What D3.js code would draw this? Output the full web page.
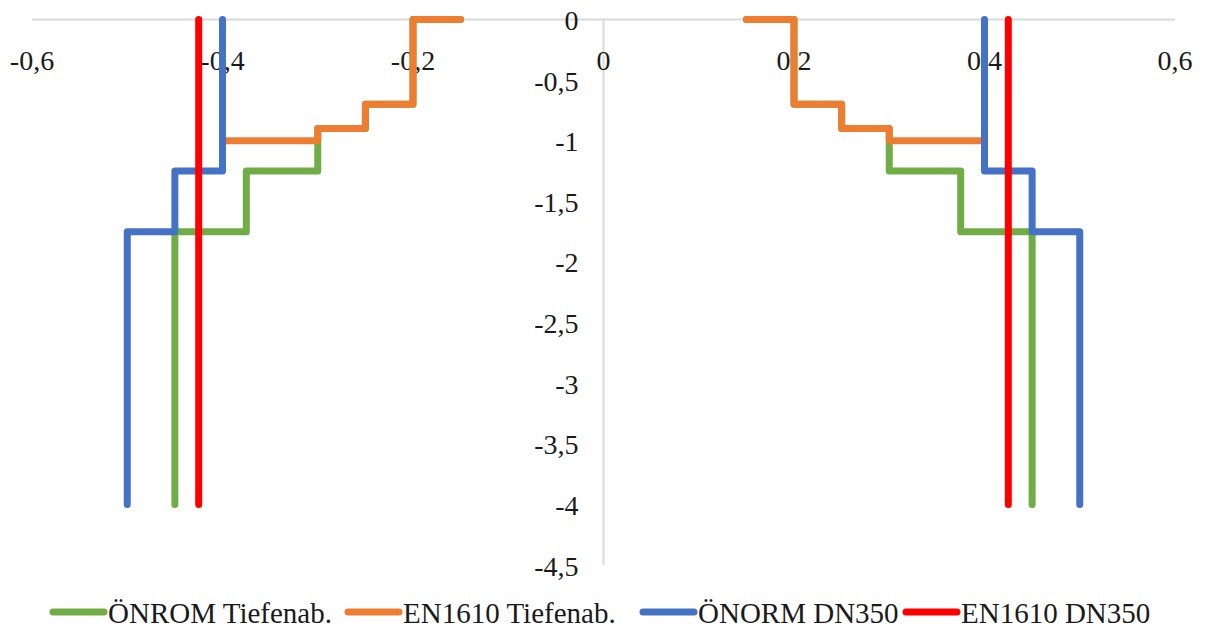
<!DOCTYPE html>
<html>
<head>
<meta charset="utf-8">
<script src="https://cdn.jsdelivr.net/npm/d3@7"></script>
<style>
  html, body { margin: 0; padding: 0; background: #fff; }
  svg { display: block; }
  text { font-family: "Liberation Serif", "DejaVu Serif", serif; fill: #1a1a1a; }
</style>
</head>
<body>
<svg id="chart" width="1206" height="632"></svg>
<script>
// Series: step profiles, right (positive x) and left (negative x) branches
const seriesNames = ["ÖNROM Tiefenab.", "EN1610 Tiefenab.", "ÖNORM DN350", "EN1610 DN350"];
const seriesColors = ["#70ad47", "#ed7d31", "#4472c4", "#ff0000"];

const onromTiefRightX = [0.15, 0.2, 0.2, 0.25, 0.25, 0.3, 0.3, 0.3, 0.375, 0.375, 0.45, 0.45];
const onromTiefRightY = [0, 0, -0.7, -0.7, -0.9, -0.9, -1, -1.25, -1.25, -1.75, -1.75, -4];
const onromTiefLeftX  = [-0.15, -0.2, -0.2, -0.25, -0.25, -0.3, -0.3, -0.3, -0.375, -0.375, -0.45, -0.45];
const onromTiefLeftY  = [0, 0, -0.7, -0.7, -0.9, -0.9, -1, -1.25, -1.25, -1.75, -1.75, -4];

const enTiefRightX = [0.15, 0.2, 0.2, 0.25, 0.25, 0.3, 0.3, 0.4];
const enTiefRightY = [0, 0, -0.7, -0.7, -0.9, -0.9, -1, -1];
const enTiefLeftX  = [-0.15, -0.2, -0.2, -0.25, -0.25, -0.3, -0.3, -0.4];
const enTiefLeftY  = [0, 0, -0.7, -0.7, -0.9, -0.9, -1, -1];

const onormDnRightX = [0.4, 0.4, 0.45, 0.45, 0.5, 0.5];
const onormDnRightY = [0, -1.25, -1.25, -1.75, -1.75, -4];
const onormDnLeftX  = [-0.4, -0.4, -0.45, -0.45, -0.5, -0.5];
const onormDnLeftY  = [0, -1.25, -1.25, -1.75, -1.75, -4];

const enDnRightX = [0.425, 0.425];
const enDnRightY = [0, -4];
const enDnLeftX  = [-0.425, -0.425];
const enDnLeftY  = [0, -4];

const xTicks = [-0.6, -0.4, -0.2, 0, 0.2, 0.4, 0.6];
const yTicks = [0, -0.5, -1, -1.5, -2, -2.5, -3, -3.5, -4, -4.5];

const fmt = v => String(v).replace(".", ",");

const svg = d3.select("#chart");
const x = d3.scaleLinear().domain([-0.6, 0.6]).range([32, 1175]);
const y = d3.scaleLinear().domain([-4.5, 0]).range([565, 19.5]);

// Axes lines (horizontal at y=0, vertical at x=0)
svg.append("line")
  .attr("x1", x(-0.6)).attr("x2", x(0.6))
  .attr("y1", y(0)).attr("y2", y(0))
  .attr("stroke", "#d9d9d9").attr("stroke-width", 2);
svg.append("line")
  .attr("x1", x(0)).attr("x2", x(0))
  .attr("y1", y(0)).attr("y2", y(-4.5))
  .attr("stroke", "#d9d9d9").attr("stroke-width", 2);

// X tick labels
svg.append("g").selectAll("text").data(xTicks).join("text")
  .attr("x", d => x(d)).attr("y", 60)
  .attr("text-anchor", "middle").attr("dominant-baseline", "central")
  .attr("font-size", 28)
  .text(fmt);

// Y tick labels
svg.append("g").selectAll("text").data(yTicks).join("text")
  .attr("x", x(0) - 25).attr("y", d => y(d) + 1)
  .attr("text-anchor", "end").attr("dominant-baseline", "central")
  .attr("font-size", 28)
  .text(fmt);

const series = [
  { name: seriesNames[0], color: seriesColors[0], parts: [[onromTiefRightX, onromTiefRightY], [onromTiefLeftX, onromTiefLeftY]] },
  { name: seriesNames[1], color: seriesColors[1], parts: [[enTiefRightX, enTiefRightY], [enTiefLeftX, enTiefLeftY]] },
  { name: seriesNames[2], color: seriesColors[2], parts: [[onormDnRightX, onormDnRightY], [onormDnLeftX, onormDnLeftY]] },
  { name: seriesNames[3], color: seriesColors[3], parts: [[enDnRightX, enDnRightY], [enDnLeftX, enDnLeftY]] }
];

const line = d3.line().x(d => x(d[0])).y(d => y(d[1]));

const gLines = svg.append("g");
series.forEach(s => {
  s.parts.forEach(([xs, ys]) => {
    gLines.append("path")
      .datum(xs.map((v, i) => [v, ys[i]]))
      .attr("d", line)
      .attr("fill", "none")
      .attr("stroke", s.color)
      .attr("stroke-width", 7)
      .attr("stroke-linejoin", "round")
      .attr("stroke-linecap", "round");
  });
});

// Legend
const legendX = [50, 345, 640, 903];
const legend = svg.append("g");
series.forEach((s, i) => {
  const gx = legendX[i];
  legend.append("line")
    .attr("x1", gx + 3).attr("x2", gx + 54)
    .attr("y1", 612).attr("y2", 612)
    .attr("stroke", s.color).attr("stroke-width", 7)
    .attr("stroke-linecap", "round");
  legend.append("text")
    .attr("x", gx + 58).attr("y", 613)
    .attr("dominant-baseline", "central")
    .attr("font-size", 29)
    .text(s.name);
});
</script>
</body>
</html>
